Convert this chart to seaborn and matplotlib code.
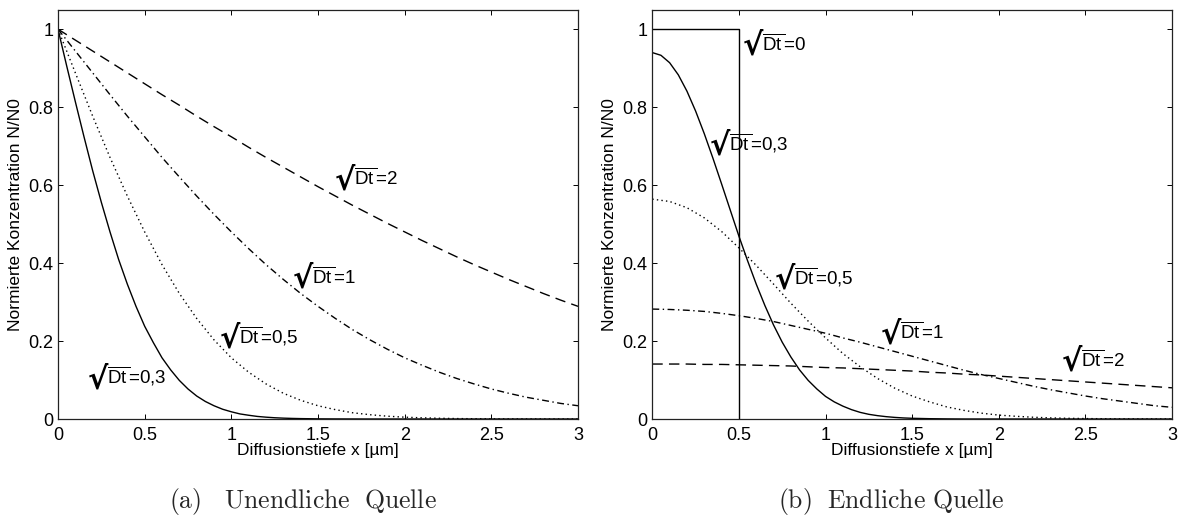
import numpy as np
import pandas as pd
import matplotlib
matplotlib.use("Agg")
import matplotlib.pyplot as plt
import seaborn as sns

# ---------------- data ----------------
x_pos = [0.0, 0.1, 0.2, 0.3, 0.4, 0.5, 0.6, 0.7, 0.8, 0.9, 1.0,
         1.1, 1.2, 1.3, 1.4, 1.5, 1.6, 1.7, 1.8, 1.9, 2.0,
         2.1, 2.2, 2.3, 2.4, 2.5, 2.6, 2.7, 2.8, 2.9, 3.0]
# finer sampling for the steep sqrt(Dt)=0,3 curves
x_fine = [0.0, 0.05, 0.1, 0.15, 0.2, 0.25, 0.3, 0.35, 0.4, 0.45, 0.5,
          0.55, 0.6, 0.65, 0.7, 0.75, 0.8, 0.85, 0.9, 0.95, 1.0,
          1.05, 1.1, 1.15, 1.2, 1.25, 1.3, 1.35, 1.4, 1.45, 1.5,
          1.6, 1.7, 1.8, 1.9, 2.0, 2.2, 2.4, 2.6, 2.8, 3.0]

# (a) Unendliche Quelle
inf_03 = [1.0, 0.906, 0.814, 0.724, 0.637, 0.556, 0.480, 0.409, 0.346, 0.289, 0.238,
          0.196, 0.157, 0.126, 0.099, 0.077, 0.059, 0.045, 0.034, 0.025, 0.0185,
          0.013, 0.0096, 0.0066, 0.0047, 0.0032, 0.0022, 0.0015, 0.0010, 0.0007, 0.0004,
          0.0002, 0.0001, 0.0, 0.0, 0.0, 0.0, 0.0, 0.0, 0.0, 0.0]
inf_05 = [1.0, 0.888, 0.777, 0.671, 0.572, 0.480, 0.396, 0.322, 0.258, 0.203, 0.157,
          0.120, 0.090, 0.066, 0.048, 0.034, 0.024, 0.016, 0.011, 0.0072, 0.0047,
          0.0030, 0.0019, 0.0011, 0.0007, 0.0004, 0.0002, 0.0001, 0.0001, 0.0, 0.0]
inf_1 = [1.0, 0.944, 0.888, 0.832, 0.777, 0.724, 0.671, 0.621, 0.572, 0.525, 0.480,
         0.437, 0.396, 0.358, 0.322, 0.289, 0.258, 0.229, 0.203, 0.179, 0.157,
         0.138, 0.120, 0.104, 0.090, 0.077, 0.066, 0.056, 0.048, 0.040, 0.034]
inf_2 = [1.0, 0.972, 0.944, 0.916, 0.888, 0.860, 0.832, 0.805, 0.777, 0.750, 0.724,
         0.697, 0.671, 0.646, 0.621, 0.596, 0.572, 0.548, 0.525, 0.502, 0.480,
         0.458, 0.437, 0.416, 0.396, 0.377, 0.358, 0.340, 0.322, 0.305, 0.289]

# (b) Endliche Quelle
fin_0_x = [0.0, 0.5, 0.5]
fin_0_y = [1.0, 1.0, 0.0]
fin_03 = [0.940, 0.933, 0.914, 0.883, 0.841, 0.790, 0.732, 0.669, 0.603, 0.536, 0.469,
          0.406, 0.346, 0.291, 0.241, 0.197, 0.159, 0.126, 0.099, 0.077, 0.058,
          0.044, 0.033, 0.024, 0.017, 0.012, 0.0086, 0.006, 0.0041, 0.0027, 0.0018,
          0.0008, 0.0003, 0.0, 0.0, 0.0, 0.0, 0.0, 0.0, 0.0, 0.0]
fin_05 = [0.564, 0.558, 0.542, 0.516, 0.481, 0.439, 0.394, 0.346, 0.297, 0.251, 0.208,
          0.168, 0.134, 0.104, 0.079, 0.059, 0.044, 0.031, 0.022, 0.015, 0.010,
          0.0069, 0.0045, 0.0028, 0.0018, 0.0011, 0.0007, 0.0004, 0.0002, 0.0001, 0.0001]
fin_1 = [0.282, 0.281, 0.279, 0.276, 0.271, 0.265, 0.258, 0.250, 0.240, 0.230, 0.220,
         0.208, 0.197, 0.185, 0.173, 0.161, 0.149, 0.137, 0.125, 0.114, 0.104,
         0.094, 0.084, 0.075, 0.067, 0.059, 0.052, 0.046, 0.040, 0.034, 0.030]
fin_2 = [0.141, 0.141, 0.141, 0.140, 0.140, 0.139, 0.138, 0.137, 0.136, 0.134, 0.132,
         0.131, 0.129, 0.127, 0.125, 0.123, 0.120, 0.118, 0.115, 0.113, 0.110,
         0.107, 0.104, 0.101, 0.098, 0.095, 0.092, 0.089, 0.086, 0.083, 0.080]

x_ticks = [0, 0.5, 1, 1.5, 2, 2.5, 3]
y_ticks = [0, 0.2, 0.4, 0.6, 0.8, 1]
x_label = "Diffusionstiefe x [µm]"
y_label = "Normierte Konzentration N/N0"
captions = ["(a)\\quad Unendliche\\ \\ Quelle", "(b)\\ \\ Endliche\\ Quelle"]

# label texts and baseline positions (data coords)
labels_a = [("0,3", 0.173, 0.090), ("0,5", 0.935, 0.193), ("1", 1.356, 0.347), ("2", 1.598, 0.600)]
labels_b = [("0", 0.525, 0.945), ("0,3", 0.335, 0.690), ("0,5", 0.710, 0.346),
            ("1", 1.321, 0.205), ("2", 2.367, 0.134)]

# ---------------- style ----------------
sns.set_theme(style="ticks")
plt.rcParams["font.family"] = ["Liberation Sans", "DejaVu Sans"]
plt.rcParams["mathtext.fontset"] = "custom"
plt.rcParams["mathtext.rm"] = "Liberation Sans"
plt.rcParams["mathtext.sf"] = "Liberation Sans"
plt.rcParams["mathtext.it"] = "Liberation Sans:italic"
plt.rcParams["mathtext.bf"] = "Liberation Sans:bold"

styles = {
    "0": dict(linestyle="-"),
    "0,3": dict(linestyle="-"),
    "0,5": dict(linestyle=(0, (1, 2.3))),
    "1": dict(linestyle=(0, (5, 2.5, 1, 2.5))),
    "2": dict(linestyle=(0, (7.5, 4.5))),
}

def long_df(series):
    rows = []
    for name, xs, ys in series:
        for i, (xv, yv) in enumerate(zip(xs, ys)):
            rows.append({"x": xv, "y": yv, "curve": name, "order": i})
    return pd.DataFrame(rows)

df_a = long_df([("0,3", x_fine, inf_03), ("0,5", x_pos, inf_05),
                ("1", x_pos, inf_1), ("2", x_pos, inf_2)])
df_b = long_df([("0", fin_0_x, fin_0_y), ("0,3", x_fine, fin_03), ("0,5", x_pos, fin_05),
                ("1", x_pos, fin_1), ("2", x_pos, fin_2)])

W, H = 1184, 515
fig = plt.figure(figsize=(W / 100, H / 100), dpi=100)
ax_a = fig.add_axes([58 / W, 96 / H, 520 / W, 409.3 / H])
ax_b = fig.add_axes([652.3 / W, 96 / H, 519.7 / W, 409.3 / H])

RAD = 22  # size of the radical sign

for ax, df, labels in [(ax_a, df_a, labels_a), (ax_b, df_b, labels_b)]:
    for name, sub in df.groupby("curve", sort=False):
        sns.lineplot(data=sub, x="x", y="y", ax=ax, color="black", lw=1.0,
                     estimator=None, sort=False, legend=False, **styles[name])
    ax.set_xlim(0, 3)
    ax.set_ylim(0, 1.05)
    ax.set_xticks(x_ticks)
    ax.set_yticks(y_ticks)
    ax.set_xticklabels([f"{t:g}" for t in x_ticks])
    ax.set_yticklabels([f"{t:g}" for t in y_ticks])
    ax.tick_params(direction="in", top=True, right=True, length=3.6, width=0.7,
                   labelsize=13, colors="black")
    ax.tick_params(axis="x", pad=6)
    ax.tick_params(axis="y", pad=3.5)
    for s in ax.spines.values():
        s.set_visible(True)
        s.set_color("#222222")
        s.set_linewidth(0.9)
    ax.set_xlabel(x_label, fontsize=12.5, color="black")
    ax.set_ylabel(y_label, fontsize=12.5, color="black")
    ax.xaxis.set_label_coords(0.5, -0.058)
    ax.yaxis.set_label_coords(-0.067, 0.5)
    for val, lx, ly in labels:
        ax.annotate("\u221a", xy=(lx, ly), xytext=(0, -3), textcoords="offset points",
                    fontsize=RAD, fontweight="bold", family="DejaVu Sans",
                    ha="left", va="baseline", color="black")
        ax.annotate(r"$\overline{\mathrm{Dt}\,}$" + "=" + val, xy=(lx, ly),
                    xytext=(0.62 * RAD, 0), textcoords="offset points",
                    fontsize=13.5, ha="left", va="baseline", color="black")
    ax.set_facecolor("white")

fig.text(303 / W, 7 / H, "$\\mathrm{" + captions[0] + "}$", fontsize=18.5,
         ha="center", va="baseline", math_fontfamily="cm")
fig.text(891 / W, 7 / H, "$\\mathrm{" + captions[1] + "}$", fontsize=18.5,
         ha="center", va="baseline", math_fontfamily="cm")

fig.savefig("out.png", dpi=100, facecolor="white")
